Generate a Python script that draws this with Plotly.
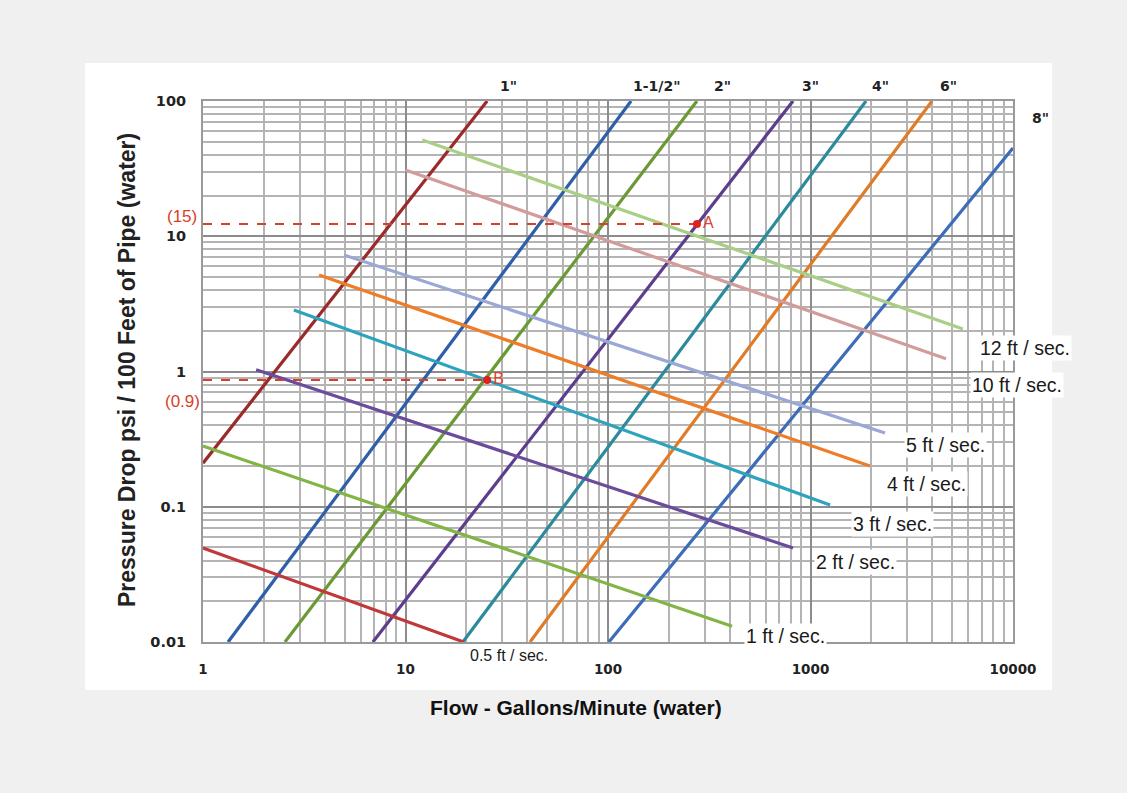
import plotly.graph_objects as go

# Pipe size lines: (flow, pressure) endpoints
pipe_names = ['1"', '1-1/2"', '2"', '3"', '4"', '6"', '8"']
pipe_flow_start = [1.0, 1.33, 2.54, 6.9, 19.2, 41.2, 101]
pipe_dp_start = [0.21, 0.01, 0.01, 0.01, 0.01, 0.01, 0.01]
pipe_flow_end = [25.3, 130, 275, 820, 1880, 3980, 10000]
pipe_dp_end = [100, 100, 100, 100, 100, 100, 44.9]
pipe_colors = ["#9b2b2b", "#2f5fa8", "#6b9a35", "#5c3d8e", "#2b8a9c", "#e07b28", "#3d6cb9"]

# Velocity lines
vel_names = ["12 ft / sec.", "10 ft / sec.", "5 ft / sec.", "4 ft / sec.",
             "3 ft / sec.", "2 ft / sec.", "1 ft / sec.", "0.5 ft / sec."]
vel_flow_start = [12.1, 10.0, 4.97, 3.74, 2.81, 1.83, 1.0, 1.0]
vel_dp_start = [51.5, 30.9, 7.26, 5.17, 2.85, 1.03, 0.281, 0.0495]
vel_flow_end = [5660, 4670, 2333, 1968, 1250, 820, 410, 19.4]
vel_dp_end = [2.06, 1.24, 0.351, 0.20, 0.103, 0.0496, 0.0131, 0.01]
vel_colors = ["#a9cf86", "#d39c9c", "#9aa8d6", "#ee7d2a", "#2ea3bd", "#6a4b9c", "#82b446", "#c0383a"]

# Example points
ex_names = ["A", "B"]
ex_flow = [275, 25.3]
ex_dp = [12.3, 0.865]
ex_labels = ["(15)", "(0.9)"]

x_ticks = [1, 10, 100, 1000, 10000]
x_ticktext = ["1", "10", "100", "1000", "10000"]
y_ticks = [0.01, 0.1, 1, 10, 100]
y_ticktext = ["0.01", "0.1", "1", "10", "100"]

fig = go.Figure()

for i in range(len(pipe_names)):
    fig.add_trace(go.Scatter(x=[pipe_flow_start[i], pipe_flow_end[i]],
                             y=[pipe_dp_start[i], pipe_dp_end[i]],
                             mode="lines", line=dict(color=pipe_colors[i], width=3.2),
                             name=pipe_names[i], showlegend=False))
for i in range(len(vel_names)):
    fig.add_trace(go.Scatter(x=[vel_flow_start[i], vel_flow_end[i]],
                             y=[vel_dp_start[i], vel_dp_end[i]],
                             mode="lines", line=dict(color=vel_colors[i], width=3.2),
                             name=vel_names[i], showlegend=False))

for i in range(len(ex_names)):
    fig.add_trace(go.Scatter(x=[1, ex_flow[i]], y=[ex_dp[i], ex_dp[i]], mode="lines",
                             line=dict(color="#d9402c", width=2, dash="dash"),
                             showlegend=False))
    fig.add_trace(go.Scatter(x=[ex_flow[i]], y=[ex_dp[i]], mode="markers+text",
                             marker=dict(color="#e02020", size=8),
                             text=[ex_names[i]], textposition="middle right",
                             textfont=dict(color="#e04030", size=16, family="Liberation Sans"),
                             showlegend=False))

W, H = 1127, 793
L, R, T, B = 203, 1013, 101, 642


def px2paper(px, py):
    return (px - L) / (R - L), (B - py) / (B - T)


annotations = []
pipe_lab_pos = [(508, 86), (656, 86), (722, 86), (810, 86), (880, 86), (948, 86), (1040, 118)]
for name, (px, py) in zip(pipe_names, pipe_lab_pos):
    xp, yp = px2paper(px, py)
    annotations.append(dict(x=xp, y=yp, xref="paper", yref="paper", text="<b>" + name + "</b>",
                            xanchor="center", yanchor="middle", showarrow=False,
                            font=dict(size=14, color="#222", family="DejaVu Sans")))

vel_lab_pos = [(1025, 348), (1017, 385), (945, 445), (926, 484), (892, 524), (855, 562), (785, 636), (509, 655)]
for name, (px, py) in zip(vel_names, vel_lab_pos):
    xp, yp = px2paper(px, py)
    sz = 16 if name.startswith("0.5") else 19.5
    annotations.append(dict(x=xp, y=yp, xref="paper", yref="paper", text=name,
                            xanchor="center", yanchor="middle", showarrow=False,
                            bgcolor="white", borderpad=1,
                            font=dict(size=sz, color="#1a1a1a", family="Liberation Sans")))

for lab, (px, py) in zip(ex_labels, [(182, 216), (182, 401)]):
    xp, yp = px2paper(px, py)
    annotations.append(dict(x=xp, y=yp, xref="paper", yref="paper", text=lab,
                            xanchor="center", yanchor="middle", showarrow=False,
                            font=dict(size=17, color="#d9402c", family="Liberation Sans")))

# axis titles
xp, yp = px2paper(576, 707)
annotations.append(dict(x=xp, y=yp, xref="paper", yref="paper",
                        text="<b>Flow - Gallons/Minute (water)</b>",
                        xanchor="center", yanchor="middle", showarrow=False,
                        font=dict(size=21, color="#111", family="Liberation Sans")))
xp, yp = px2paper(127, 370)
annotations.append(dict(x=xp, y=yp, xref="paper", yref="paper",
                        text="<b>Pressure Drop psi / 100 Feet of Pipe (water)</b>",
                        textangle=-90, xanchor="center", yanchor="middle", showarrow=False,
                        font=dict(size=23, color="#222", family="Liberation Sans")))

fig.update_layout(
    width=W, height=H,
    margin=dict(l=L, r=W - R, t=T, b=H - B, autoexpand=False),
    paper_bgcolor="#f0f0f0", plot_bgcolor="white",
    annotations=annotations,
    shapes=[dict(type="rect", xref="paper", yref="paper",
                 x0=(85 - L) / (R - L), x1=(1052 - L) / (R - L),
                 y0=(B - 690) / (B - T), y1=(B - 63) / (B - T),
                 fillcolor="white", line=dict(width=0), layer="below")],
)

fig.update_xaxes(type="log", range=[0, 4], tickvals=x_ticks, ticktext=x_ticktext,
                 showgrid=True, gridcolor="#8c8c8c", gridwidth=2,
                 minor=dict(dtick="D1", showgrid=True, gridcolor="#b4b4b4", gridwidth=1.6, ticks=""),
                 showline=True, linecolor="#999", linewidth=2, mirror=True,
                 ticks="", ticklabelstandoff=14,
                 tickfont=dict(size=13.5, color="#222", family="DejaVu Sans", weight="bold"))
fig.update_yaxes(type="log", range=[-2, 2], tickvals=y_ticks, ticktext=y_ticktext,
                 showgrid=True, gridcolor="#8c8c8c", gridwidth=2,
                 minor=dict(dtick="D1", showgrid=True, gridcolor="#b4b4b4", gridwidth=1.6, ticks=""),
                 showline=True, linecolor="#999", linewidth=2, mirror=True,
                 ticks="", ticklabelstandoff=12,
                 tickfont=dict(size=14.5, color="#222", family="DejaVu Sans", weight="bold"))

fig.write_html("out.html", config={"displayModeBar": False},
               post_script="document.body.style.margin='0';document.body.style.overflow='hidden';")
